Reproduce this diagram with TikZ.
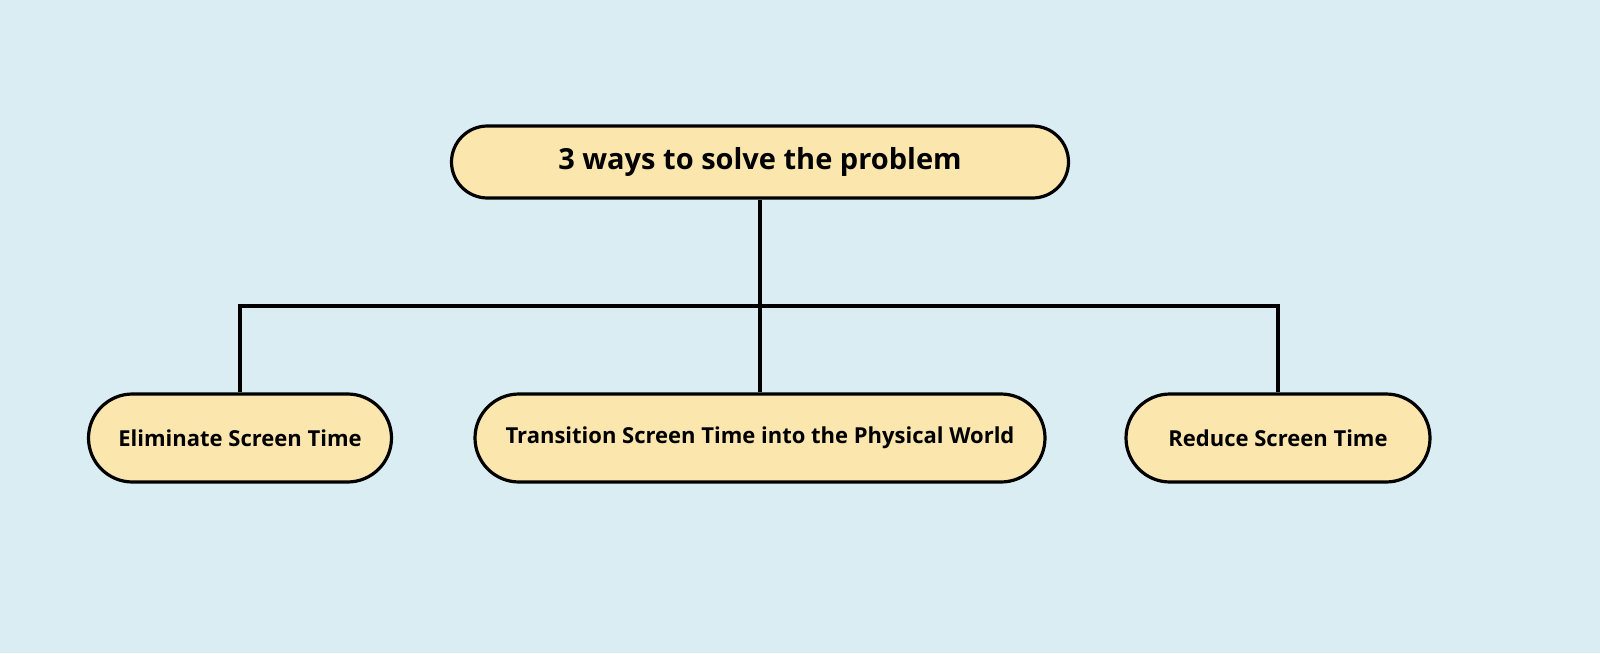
\documentclass[tikz,border=0pt]{standalone}
\usepackage{fontspec}
\setmainfont{Open Sans}
\definecolor{bg}{HTML}{DAEDF3}
\definecolor{boxfill}{HTML}{FBE6AE}
\begin{document}
\begin{tikzpicture}[x=0.5pt,y=-0.5pt,
  box/.style={draw=black,line width=1.6pt,fill=boxfill,rounded corners=18pt,inner sep=0pt,font=\bfseries},
  child/.style={box,minimum height=44pt,rounded corners=22pt,font=\bfseries\fontsize{11}{13}\selectfont},
  conn/.style={line width=1.6pt}]
\fill[bg] (0,0) rectangle (1600,653);
\useasboundingbox (0,0) rectangle (1600,653);
\node[box,minimum width=308.5pt,minimum height=36pt,font=\bfseries\fontsize{14.5}{17}\selectfont] (top) at (760,162) {3 ways to solve the problem};
\node[child,minimum width=151.5pt] (a) at (240,438) {Eliminate Screen Time};
\node[child,minimum width=285pt] (b) at (760,438) {Transition Screen Time into the Physical World};
\node[child,minimum width=152pt] (c) at (1278,438) {Reduce Screen Time};
\coordinate (j) at (760,306);
\draw[conn] (top.south) -- (j);
\draw[conn] (a.north) |- (j);
\draw[conn] (c.north) |- (j);
\draw[conn] (b.north) -- (j);
\end{tikzpicture}
\end{document}
